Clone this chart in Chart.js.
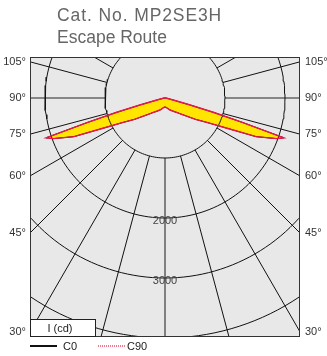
<!DOCTYPE html>
<html>
<head>
<meta charset="utf-8">
<script src="https://cdn.jsdelivr.net/npm/chart.js@4.4.0/dist/chart.umd.min.js"></script>
<style>
  html, body { margin: 0; padding: 0; background: #fff; }
  #wrap { position: relative; width: 327px; height: 356px; }
</style>
</head>
<body>
<div id="wrap"><canvas id="chart" width="327" height="356"></canvas></div>
<script>
// title lines
const titleLines = ['Cat. No. MP2SE3H', 'Escape Route'];

// gamma angles (deg from nadir) and intensities in cd
const gammaAngles = [0, 10, 20, 30, 40, 45, 50, 55, 60, 64, 67, 70, 71.5, 72.5, 73.5, 74.5, 76, 80, 90, 120, 180];
const c0Values  = [150, 165, 205, 250, 320, 380, 470, 620, 820, 1150, 1650, 1980, 2090, 1350, 850, 420, 140, 45, 15, 0, 0];
const c90Values = [150, 165, 205, 250, 320, 380, 470, 620, 820, 1150, 1650, 1980, 2090, 1350, 850, 420, 140, 45, 15, 0, 0];

// grid
const ringValues = [1000, 2000, 3000, 4000];
const ringLabels = ['2000', '3000'];
const spokeAngles = [0, 15, 30, 45, 60, 75, 90, 105, 120, 135, 150, 165, 180];
const sideAngles = [30, 45, 60, 75, 90, 105];
const sideLabels = ['30°', '45°', '60°', '75°', '90°', '105°'];

const legendNames = ['C0', 'C90'];
const unitLabel = 'I (cd)';

const FONT = '"Liberation Sans", Arial, Helvetica, sans-serif';
const rad = d => d * Math.PI / 180;

function lobe(vals) {
  const pts = [];
  for (let i = 0; i < gammaAngles.length; i++) {
    const g = rad(gammaAngles[i]);
    pts.push({ x: vals[i] * Math.sin(g), y: -vals[i] * Math.cos(g) });
  }
  for (let i = gammaAngles.length - 1; i >= 0; i--) {
    const g = rad(gammaAngles[i]);
    pts.push({ x: -vals[i] * Math.sin(g), y: -vals[i] * Math.cos(g) });
  }
  return pts;
}

const datasets = [];

datasets.push({
  label: 'C90', data: lobe(c90Values), showLine: true, pointRadius: 0,
  borderColor: '#e8194b', borderWidth: 1.4, fill: false, order: 0
});

ringValues.forEach(v => {
  const pts = [];
  for (let a = 0; a <= 360; a += 2) {
    pts.push({ x: v * Math.sin(rad(a)), y: -v * Math.cos(rad(a)) });
  }
  datasets.push({ data: pts, showLine: true, pointRadius: 0, borderColor: '#111', borderWidth: 1, fill: false, order: 1 });
});

spokeAngles.forEach(a => {
  [1, -1].forEach(side => {
    if ((a === 0 || a === 180) && side === -1) return;
    const main = a === 0 || a === 90;
    datasets.push({
      data: [
        { x: side * 1000 * Math.sin(rad(a)), y: -1000 * Math.cos(rad(a)) },
        { x: side * 9000 * Math.sin(rad(a)), y: -9000 * Math.cos(rad(a)) }
      ],
      showLine: true, pointRadius: 0,
      borderColor: main ? '#666' : '#111', borderWidth: main ? 1.6 : 1,
      fill: false, order: 2
    });
  });
});

datasets.push({
  label: 'C0', data: lobe(c0Values), showLine: true, pointRadius: 0,
  borderColor: '#000', borderWidth: 1, backgroundColor: '#ffe500', fill: 'shape', order: 3
});

const decor = {
  id: 'decor',
  beforeDatasetsDraw(chart) {
    const { ctx, chartArea: a } = chart;
    ctx.save();
    ctx.fillStyle = '#e8e8e8';
    ctx.fillRect(a.left, a.top, a.right - a.left, a.bottom - a.top);
    ctx.restore();
  },
  afterDraw(chart) {
    const { ctx, chartArea: a, scales } = chart;
    const sx = scales.x, sy = scales.y;
    ctx.save();

    // ring labels
    ctx.fillStyle = '#444';
    ctx.font = '11px ' + FONT;
    ctx.textAlign = 'center';
    ctx.textBaseline = 'middle';
    ringLabels.forEach(t => {
      ctx.fillText(t, sx.getPixelForValue(0), sy.getPixelForValue(-Number(t)) + 3);
    });

    // frame
    ctx.strokeStyle = '#333';
    ctx.lineWidth = 1;
    ctx.strokeRect(Math.round(a.left) + 0.5, Math.round(a.top) + 0.5,
      Math.round(a.right - a.left) - 1, Math.round(a.bottom - a.top) - 1);

    // side angle labels where the spokes meet the frame
    ctx.fillStyle = '#333';
    ctx.font = '11px ' + FONT;
    const xm = sx.max;
    sideAngles.forEach((g, i) => {
      const t = xm / Math.sin(rad(g));
      const py = sy.getPixelForValue(-t * Math.cos(rad(g)));
      ctx.textAlign = 'right';
      ctx.fillText(sideLabels[i], a.left - 4, py);
      ctx.textAlign = 'left';
      ctx.fillText(sideLabels[i], a.right + 5, py);
    });

    // title
    ctx.fillStyle = '#666';
    ctx.font = '17.5px ' + FONT;
    ctx.textAlign = 'left';
    ctx.textBaseline = 'alphabetic';
    ctx.letterSpacing = '0.9px';
    ctx.fillText(titleLines[0], 57, 21);
    ctx.letterSpacing = '0px';
    ctx.fillText(titleLines[1], 57, 43);

    // unit box
    ctx.fillStyle = '#fff';
    ctx.fillRect(30, 319, 66, 18);
    ctx.strokeStyle = '#222';
    ctx.strokeRect(30.5, 319.5, 65, 17);
    ctx.fillStyle = '#222';
    ctx.font = '11px ' + FONT;
    ctx.textAlign = 'center';
    ctx.textBaseline = 'middle';
    ctx.fillText(unitLabel, 60, 329);

    // legend
    ctx.lineWidth = 2;
    ctx.strokeStyle = '#111';
    ctx.beginPath(); ctx.moveTo(30, 346); ctx.lineTo(57, 346); ctx.stroke();
    ctx.strokeStyle = '#f07a90';
    ctx.setLineDash([1, 1]);
    ctx.beginPath(); ctx.moveTo(98, 346); ctx.lineTo(126, 346); ctx.stroke();
    ctx.setLineDash([]);
    ctx.fillStyle = '#222';
    ctx.textAlign = 'left';
    ctx.fillText(legendNames[0], 63, 347);
    ctx.fillText(legendNames[1], 127, 347);
    ctx.restore();
  }
};

new Chart(document.getElementById('chart'), {
  type: 'scatter',
  data: { datasets },
  options: {
    responsive: false,
    animation: false,
    devicePixelRatio: 1,
    layout: { padding: { left: 30, right: 27, top: 57, bottom: 19 } },
    plugins: { legend: { display: false }, tooltip: { enabled: false }, title: { display: false } },
    scales: {
      x: { type: 'linear', display: false, min: -2250, max: 2250 },
      y: { type: 'linear', display: false, min: -3983, max: 683 }
    }
  },
  plugins: [decor]
});
</script>
</body>
</html>
